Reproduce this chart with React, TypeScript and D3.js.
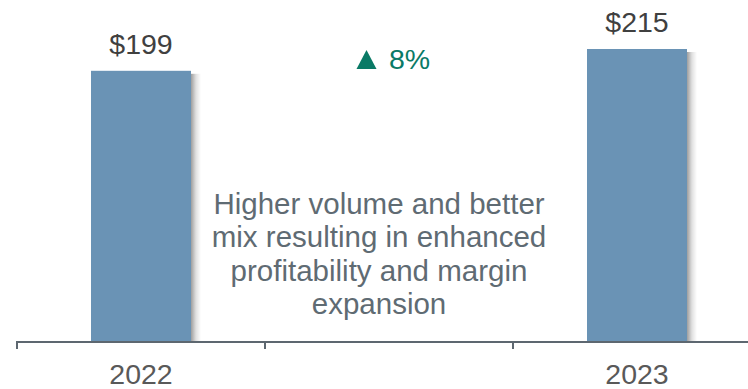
import React, { useEffect, useRef } from "react";
import * as d3 from "d3";

const categories = ["2022", "", "2023"];
const values: (number | null)[] = [199, null, 215];
const valueLabels = ["$199", "", "$215"];
const changeLabel = "8%";
const noteLines = [
  "Higher volume and better",
  "mix resulting in enhanced",
  "profitability and margin",
  "expansion",
];

const W = 748;
const H = 389;

export default function App() {
  const ref = useRef<SVGSVGElement | null>(null);

  useEffect(() => {
    const svg = d3.select(ref.current);
    svg.selectAll("*").remove();

    const keys = categories.map((c, i) => c + "#" + i);
    const x = d3.scaleBand<string>().domain(keys).range([17, 761]).padding(0);
    const y = d3.scaleLinear().domain([0, 215]).range([342, 49]);
    const barW = 100;
    const font = "'Liberation Sans', Arial, sans-serif";

    const defs = svg.append("defs");
    const grad = defs.append("linearGradient").attr("id", "shadow").attr("x1", "0").attr("x2", "1").attr("y1", "0").attr("y2", "0");
    grad.append("stop").attr("offset", "0").attr("stop-color", "#000").attr("stop-opacity", 0.38);
    grad.append("stop").attr("offset", "0.5").attr("stop-color", "#000").attr("stop-opacity", 0.12);
    grad.append("stop").attr("offset", "1").attr("stop-color", "#000").attr("stop-opacity", 0);

    const data = keys.map((k, i) => ({ k, v: values[i], label: valueLabels[i], cat: categories[i] }));
    const bars = data.filter((d) => d.v !== null) as { k: string; v: number; label: string; cat: string }[];

    svg.selectAll("rect.shadow").data(bars).enter().append("rect")
      .attr("class", "shadow")
      .attr("x", (d) => x(d.k)! + x.bandwidth() / 2 + barW / 2)
      .attr("y", (d) => y(d.v) + 3)
      .attr("width", 10)
      .attr("height", (d) => y(0) - y(d.v) - 3)
      .attr("fill", "url(#shadow)");

    svg.selectAll("rect.bar").data(bars).enter().append("rect")
      .attr("class", "bar")
      .attr("x", (d) => x(d.k)! + x.bandwidth() / 2 - barW / 2)
      .attr("y", (d) => y(d.v))
      .attr("width", barW)
      .attr("height", (d) => y(0) - y(d.v))
      .attr("fill", "#6a93b5");

    svg.selectAll("text.val").data(bars).enter().append("text")
      .attr("class", "val")
      .attr("x", (d) => x(d.k)! + x.bandwidth() / 2)
      .attr("y", (d) => y(d.v) - 17)
      .attr("text-anchor", "middle")
      .attr("font-family", font)
      .attr("font-size", 28.5)
      .attr("fill", "#404040")
      .text((d) => d.label);

    svg.append("line").attr("x1", 17).attr("x2", W).attr("y1", 342).attr("y2", 342)
      .attr("stroke", "#5d6770").attr("stroke-width", 2);
    svg.selectAll("line.tick").data(keys).enter().append("line")
      .attr("class", "tick")
      .attr("x1", (k) => x(k)!).attr("x2", (k) => x(k)!)
      .attr("y1", 341).attr("y2", 349)
      .attr("stroke", "#5d6770").attr("stroke-width", 2);

    svg.selectAll("text.cat").data(data).enter().append("text")
      .attr("class", "cat")
      .attr("x", (d) => x(d.k)! + x.bandwidth() / 2)
      .attr("y", 384)
      .attr("text-anchor", "middle")
      .attr("font-family", font)
      .attr("font-size", 28.5)
      .attr("fill", "#595959")
      .text((d) => d.cat);

    const tx = 366.5, ty = 50;
    svg.append("path")
      .attr("d", `M${tx},${ty} L${tx + 10},${ty + 19} L${tx - 10},${ty + 19} Z`)
      .attr("fill", "#0a7a66");
    svg.append("text").attr("x", 389).attr("y", 69)
      .attr("font-family", font).attr("font-size", 28.5).attr("fill", "#0a7a66")
      .text(changeLabel);

    const note = svg.append("text")
      .attr("text-anchor", "middle")
      .attr("font-family", font)
      .attr("font-size", 29.5)
      .attr("fill", "#5f6b73");
    noteLines.forEach((l, i) => {
      note.append("tspan").attr("x", 379).attr("y", 213.5 + i * 33.5).text(l);
    });
  }, []);

  return (
    <svg
      ref={ref}
      width={W}
      height={H}
      style={{ position: "absolute", left: 0, top: 0, background: "#fff", display: "block" }}
    />
  );
}
